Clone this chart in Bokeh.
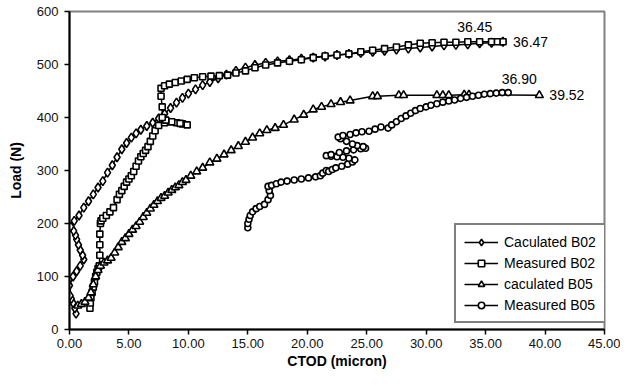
from bokeh.plotting import figure
from bokeh.models import Range1d, Legend, LegendItem, NumeralTickFormatter, FixedTicker
from bokeh.core.properties import value
from bokeh.embed import file_html
from bokeh.resources import INLINE

# ---------------- data ----------------
calc_b02_x = [0.55, 0.45, 0.30, 0.15, 0.05, 0.00, 0.30, 0.60, 0.90, 1.20, 1.10, 0.90, 0.75, 0.60, 0.50, 0.35, 0.10,
              0.40, 0.80, 1.20, 1.60, 2.00, 2.40, 2.80, 3.20, 3.60, 4.00, 4.40, 4.80, 5.20, 5.60, 6.00, 6.50, 7.00,
              7.50, 8.00, 8.50, 9.00, 9.50, 10.00, 10.60, 11.20, 11.80, 12.50, 13.20, 14.00, 14.80, 15.60, 16.50,
              17.50, 18.50, 19.50, 20.50, 21.50, 22.50, 23.50, 24.50, 25.50, 26.50, 27.50, 28.50, 29.50, 30.50,
              31.50, 32.50, 33.50, 34.50, 35.50, 36.45]
calc_b02_y = [30, 40, 50, 58, 64, 83, 100, 110, 120, 132, 140, 150, 160, 170, 178, 186, 194,
              205, 215, 230, 242, 255, 268, 280, 296, 310, 325, 340, 352, 362, 370, 377, 384, 390,
              398, 407, 418, 428, 437, 445, 453, 461, 467, 474, 481, 488, 494, 499, 503,
              506, 508, 511, 513, 515, 518, 520, 522, 524, 526, 528, 530, 532, 534,
              536, 537, 538, 540, 541, 543]

meas_b02_x = [1.72, 1.75, 1.80, 1.90, 2.00, 2.10, 2.20, 2.30, 2.40, 2.50, 2.55, 2.55, 2.55, 2.60, 2.65, 2.80,
              3.10, 3.40, 3.70, 4.00, 4.20, 4.40, 4.60, 4.80, 5.00, 5.20, 5.40, 5.60, 5.80, 6.00, 6.20, 6.40,
              6.60, 6.80, 7.00, 7.20, 7.50, 8.00, 8.50, 9.00, 9.50, 9.90, 9.30, 8.60, 8.10, 7.80, 7.80, 7.70,
              7.70, 8.00, 8.40, 8.90, 9.40, 9.90, 10.50, 11.20, 11.90, 12.60, 13.30, 14.00, 14.80, 15.60, 16.50,
              17.50, 18.50, 19.50, 20.50, 21.50, 22.50, 23.50, 24.50, 25.50, 26.50, 27.50, 28.50, 29.50, 30.50,
              31.50, 32.50, 33.50, 34.50, 35.50, 36.00, 36.47]
meas_b02_y = [40, 50, 60, 70, 80, 90, 100, 108, 115, 120, 140, 160, 180, 200, 205, 210,
              215, 222, 230, 245, 255, 262, 270, 278, 284, 290, 298, 308, 318, 326, 332, 338,
              345, 355, 365, 375, 385, 390, 392, 390, 388, 386, 389, 392, 395, 400, 420, 440,
              455, 460, 463, 466, 469, 472, 475, 477, 478, 479, 480, 484, 488, 494, 499,
              503, 506, 509, 513, 516, 518, 520, 524, 527, 530, 533, 537, 540, 541,
              542, 542, 543, 543, 543, 543, 543]

calc_b05_x = [0.70, 1.00, 1.30, 1.60, 1.80, 2.00, 2.20, 2.40, 2.60, 2.90, 3.20, 3.50, 3.80, 4.10, 4.40, 4.70,
              5.00, 5.30, 5.60, 5.90, 6.20, 6.50, 6.80, 7.10, 7.40, 7.70, 8.00, 8.30, 8.60, 8.90, 9.20, 9.50,
              9.80, 10.20, 10.70, 11.20, 11.80, 12.40, 13.00, 13.60, 14.20, 14.80, 15.40, 16.00, 16.60, 17.30,
              18.00, 18.90, 19.70, 20.50, 21.20, 22.00, 22.80, 23.60, 25.50, 25.90, 27.70, 28.10, 30.90, 31.40,
              31.90, 33.20, 33.60, 39.52]
calc_b05_y = [45, 48, 52, 60, 70, 85, 100, 112, 120, 126, 130, 135, 145, 155, 165, 172,
              180, 188, 195, 203, 212, 220, 228, 235, 242, 248, 252, 258, 263, 268, 272, 278,
              282, 290, 298, 305, 315, 322, 330, 338, 346, 354, 362, 370, 376, 380,
              386, 396, 405, 415, 420, 425, 429, 432, 440, 440, 442, 442, 442, 442,
              442, 443, 443, 442]

meas_b05_x = [15.0, 15.0, 15.1, 15.2, 15.4, 15.7, 16.0, 16.4, 16.7, 16.9, 16.8, 16.7, 17.0, 17.4, 17.8, 18.3,
              18.9, 19.5, 20.1, 20.7, 21.1, 21.3, 21.6, 21.8, 22.1, 22.4, 22.9, 23.4, 23.8, 24.0, 23.5, 23.0,
              22.5, 22.0, 21.6, 22.0, 22.7, 23.3, 23.9, 24.5, 24.9, 24.7, 24.2, 23.8, 23.3, 22.8, 22.6, 23.0,
              23.6, 24.1, 24.6, 25.2, 25.7, 26.2, 26.8, 27.1, 27.5, 27.9, 28.3, 28.7, 29.1, 29.5, 30.0, 30.4,
              30.9, 31.4, 31.9, 32.4, 32.9, 33.4, 33.9, 34.4, 34.9, 35.4, 35.9, 36.4, 36.9]
meas_b05_y = [192, 200, 208, 215, 222, 228, 232, 236, 245, 253, 262, 270, 272, 275, 278, 280,
              282, 284, 286, 288, 290, 295, 300, 298, 302, 305, 308, 312, 316, 320, 323, 325,
              326, 327, 328, 330, 334, 337, 339, 341, 342, 345, 347, 350, 355, 360, 363, 366,
              368, 371, 373, 374, 378, 382, 380, 386, 392, 398, 403, 408, 413, 417, 420, 423,
              426, 429, 431, 433, 436, 438, 440, 442, 444, 445, 446, 447, 447]

series_names = ["Caculated B02", "Measured B02", "caculated B05", "Measured B05"]
x_ticks = [0, 5, 10, 15, 20, 25, 30, 35, 40, 45]
y_ticks = [0, 100, 200, 300, 400, 500, 600]

# ---------------- figure ----------------
FONT = "Liberation Sans"
p = figure(width=620, height=371, output_backend="svg", toolbar_location=None,
           x_range=Range1d(0, 45), y_range=Range1d(0, 600),
           min_border_left=69, min_border_right=16, min_border_top=11, min_border_bottom=42)
p.xgrid.visible = False
p.ygrid.visible = False
p.outline_line_color = "#808080"
p.outline_line_width = 2
p.background_fill_color = "white"
p.border_fill_color = "white"

for ax in (p.xaxis[0], p.yaxis[0]):
    ax.axis_line_color = "black"
    ax.axis_line_width = 2
    ax.major_tick_line_color = "black"
    ax.major_tick_line_width = 1.5
    ax.major_tick_in = 0
    ax.major_tick_out = 5
    ax.minor_tick_line_color = None
    ax.major_label_text_font = FONT
    ax.major_label_text_font_size = "13px"
    ax.major_label_text_color = "#111111"
    ax.axis_label_text_font = FONT
    ax.axis_label_text_font_size = "14px"
    ax.axis_label_text_font_style = "bold"
    ax.axis_label_text_color = "black"

p.xaxis.ticker = FixedTicker(ticks=x_ticks)
p.yaxis.ticker = FixedTicker(ticks=y_ticks)
p.xaxis.formatter = NumeralTickFormatter(format="0.00")
p.xaxis.axis_label = "CTOD (micron)"
p.yaxis.axis_label = "Load (N)"
p.xaxis.major_label_standoff = 4
p.xaxis.axis_label_standoff = 2
p.yaxis.major_label_standoff = 6
p.yaxis.axis_label_standoff = 10

specs = [
    (calc_b02_x, calc_b02_y, "diamond", 9),
    (meas_b02_x, meas_b02_y, "square", 6),
    (calc_b05_x, calc_b05_y, "triangle", 8),
    (meas_b05_x, meas_b05_y, "circle", 6),
]
items = []
for (xs, ys, mk, sz), name in zip(specs, series_names):
    r1 = p.line(xs, ys, line_color="black", line_width=1.5)
    r2 = p.scatter(xs, ys, marker=mk, size=sz, fill_color="white", line_color="black", line_width=1.6)
    items.append(LegendItem(label=name, renderers=[r1, r2]))

legend = Legend(items=items, location=(385, 6))
legend.border_line_color = "black"
legend.border_line_width = 2
legend.background_fill_color = "white"
legend.background_fill_alpha = 1
legend.label_text_font = FONT
legend.label_text_font_size = "14px"
legend.label_text_color = "black"
legend.glyph_width = 34
legend.glyph_height = 16
legend.label_height = 17
legend.label_standoff = 6
legend.spacing = 4
legend.padding = 8
legend.margin = 0
p.add_layout(legend)

# end-value labels
def end_label(xs, ys, xo, yo, align, baseline):
    p.text(x=[xs[-1]], y=[ys[-1]], text=["%.2f" % xs[-1]], x_offset=xo, y_offset=yo,
           text_align=align, text_baseline=baseline, text_font=value(FONT),
           text_font_size="14px", text_color="black")

end_label(calc_b02_x, calc_b02_y, -28, -15, "center", "middle")
end_label(meas_b02_x, meas_b02_y, 10, 0, "left", "middle")
end_label(meas_b05_x, meas_b05_y, 11, -14, "center", "middle")
end_label(calc_b05_x, calc_b05_y, 10, 0, "left", "middle")

open("out.html", "w").write(file_html(p, INLINE))
